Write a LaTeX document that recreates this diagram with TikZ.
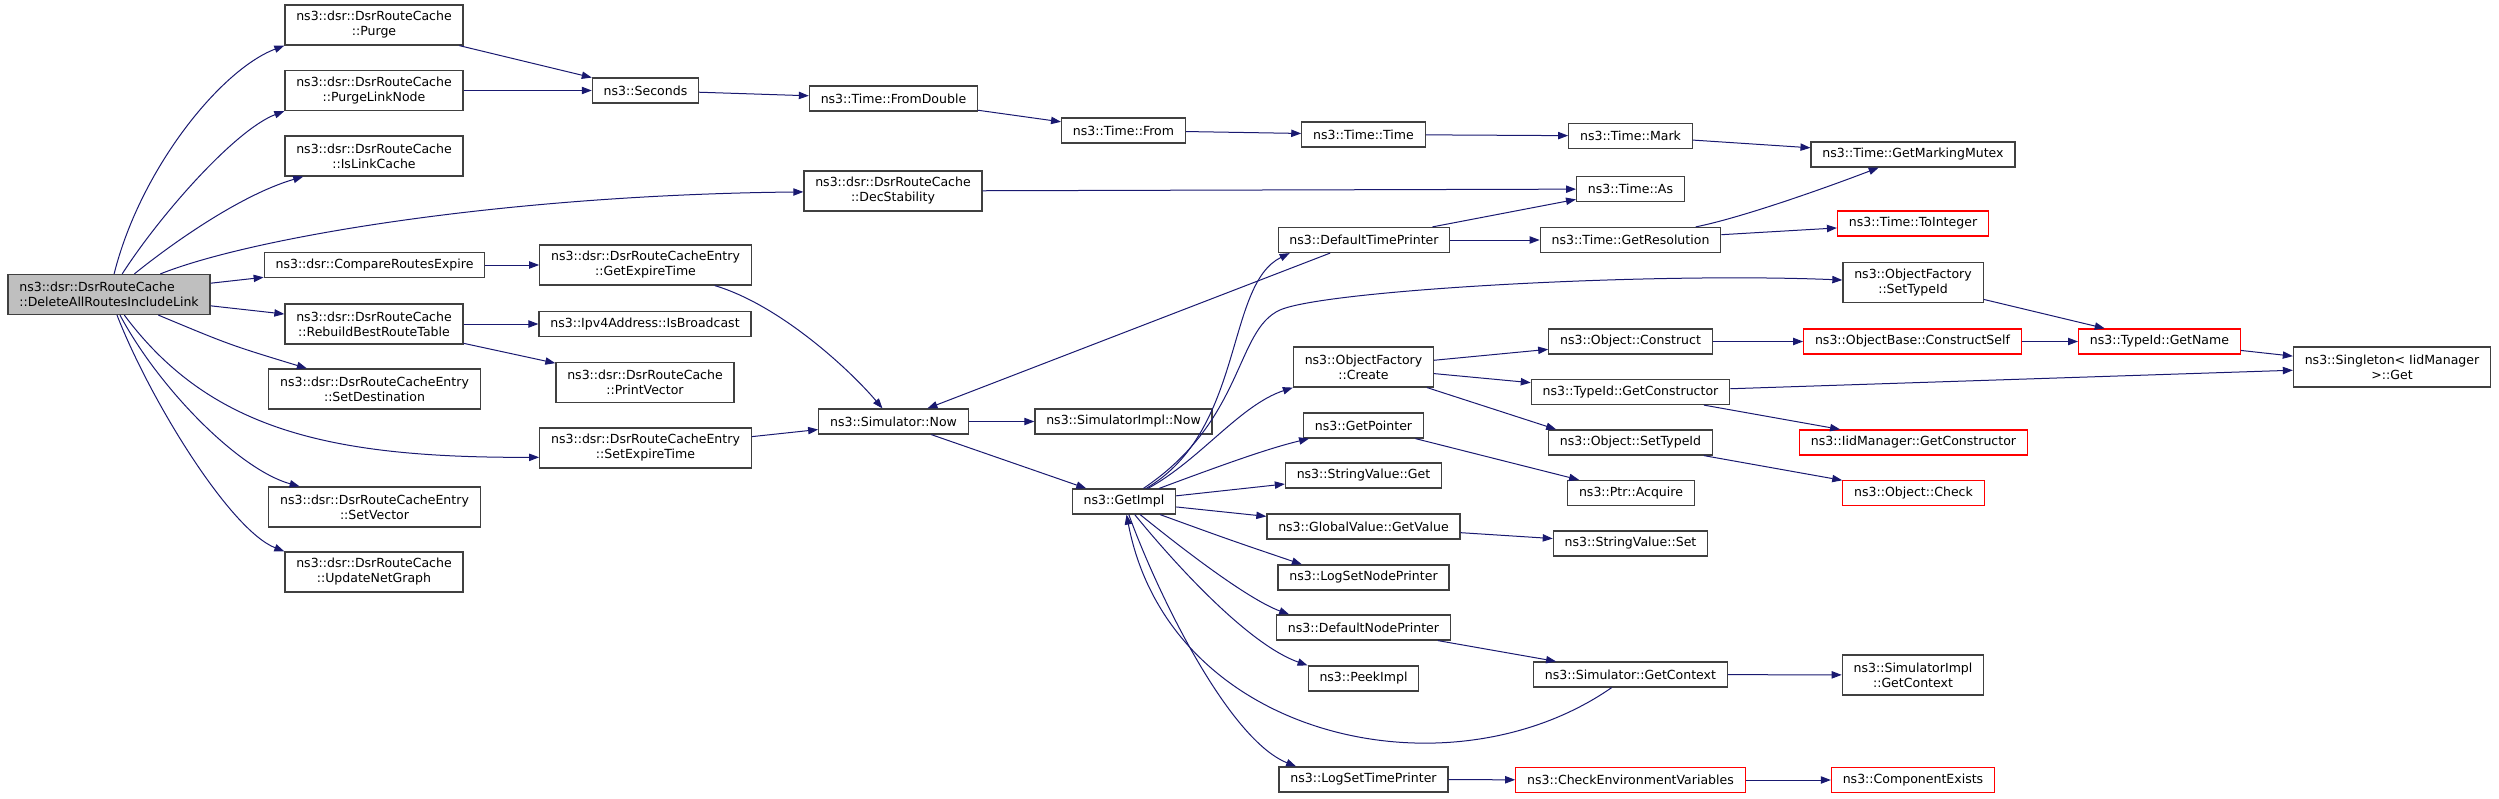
\documentclass[tikz,border=0pt]{standalone}
\usepackage{fontspec}
\setmainfont{DejaVu Sans}
\usetikzlibrary{arrows.meta}
\definecolor{callblue}{HTML}{191970}
\definecolor{boxgray}{HTML}{404040}

\begin{document}
\begin{tikzpicture}[x=0.75pt, y=-0.75pt,
    fnblock/.style = {rectangle, draw=boxgray, fill=white, line width=0.9pt, align=center, inner xsep=8.5pt, inner ysep=0pt, minimum height=18.75pt, font=\fontsize{9.4}{11.25}\selectfont},
    fnblock2/.style = {fnblock, minimum height=30pt},
    redblock/.style = {fnblock, draw=red},
    rootblock/.style = {fnblock2, fill=black!25, align=left},
    call/.style = {draw=callblue, line width=0.75pt, -{Triangle[length=7.5pt, width=5.5pt]}},
    ]
        \useasboundingbox (0,0) rectangle (2499,799);

        % Nodes
        \node[rootblock] (root) at (109,294.5) {ns3::dsr::DsrRouteCache\\::DeleteAllRoutesIncludeLink};
        %
        \node[fnblock2] (purge) at (374,25) {ns3::dsr::DsrRouteCache\\::Purge};
        \node[fnblock2] (purgelink) at (374,90.5) {ns3::dsr::DsrRouteCache\\::PurgeLinkNode};
        \node[fnblock2] (islink) at (374,156) {ns3::dsr::DsrRouteCache\\::IsLinkCache};
        \node[fnblock] (compare) at (374.5,265) {ns3::dsr::CompareRoutesExpire};
        \node[fnblock2] (rebuild) at (374,324) {ns3::dsr::DsrRouteCache\\::RebuildBestRouteTable};
        \node[fnblock2] (setdest) at (374.5,389) {ns3::dsr::DsrRouteCacheEntry\\::SetDestination};
        \node[fnblock2] (setvec) at (374.5,507) {ns3::dsr::DsrRouteCacheEntry\\::SetVector};
        \node[fnblock2] (netgraph) at (374,572) {ns3::dsr::DsrRouteCache\\::UpdateNetGraph};
        %
        \node[fnblock] (seconds) at (645.5,90.5) {ns3::Seconds};
        \node[fnblock2] (getexpire) at (645.5,265) {ns3::dsr::DsrRouteCacheEntry\\::GetExpireTime};
        \node[fnblock] (isbcast) at (645,324) {ns3::Ipv4Address::IsBroadcast};
        \node[fnblock2] (printvec) at (645,382.5) {ns3::dsr::DsrRouteCache\\::PrintVector};
        \node[fnblock2] (setexp) at (645.5,448) {ns3::dsr::DsrRouteCacheEntry\\::SetExpireTime};
        %
        \node[fnblock] (fromdbl) at (893.5,98.5) {ns3::Time::FromDouble};
        \node[fnblock2] (decstab) at (893,191) {ns3::dsr::DsrRouteCache\\::DecStability};
        \node[fnblock] (simnow) at (893.5,421.5) {ns3::Simulator::Now};
        %
        \node[fnblock] (timefrom) at (1123.5,130.5) {ns3::Time::From};
        \node[fnblock] (simimplnow) at (1123.5,421.5) {ns3::SimulatorImpl::Now};
        \node[fnblock] (getimpl) at (1124,501.5) {ns3::GetImpl};
        %
        \node[fnblock] (timetime) at (1363.5,134.5) {ns3::Time::Time};
        \node[fnblock] (deftime) at (1364,240) {ns3::DefaultTimePrinter};
        \node[fnblock2] (ofcreate) at (1363.5,367) {ns3::ObjectFactory\\::Create};
        \node[fnblock] (getptr) at (1363.5,425.5) {ns3::GetPointer};
        \node[fnblock] (strget) at (1363.5,475.5) {ns3::StringValue::Get};
        \node[fnblock] (gvget) at (1363.5,526.5) {ns3::GlobalValue::GetValue};
        \node[fnblock] (lognode) at (1363.5,577.5) {ns3::LogSetNodePrinter};
        \node[fnblock] (defnode) at (1363.5,627.5) {ns3::DefaultNodePrinter};
        \node[fnblock] (peek) at (1363.5,678.5) {ns3::PeekImpl};
        \node[fnblock] (logtime) at (1363.5,779.5) {ns3::LogSetTimePrinter};
        %
        \node[fnblock] (mark) at (1630.5,136) {ns3::Time::Mark};
        \node[fnblock] (timeas) at (1630.5,189) {ns3::Time::As};
        \node[fnblock] (getres) at (1630.5,240) {ns3::Time::GetResolution};
        \node[fnblock] (construct) at (1630.5,341.5) {ns3::Object::Construct};
        \node[fnblock] (getctor) at (1630.5,392) {ns3::TypeId::GetConstructor};
        \node[fnblock] (objsettype) at (1630.5,442.5) {ns3::Object::SetTypeId};
        \node[fnblock] (acquire) at (1631,493) {ns3::Ptr::Acquire};
        \node[fnblock] (strset) at (1630.5,543.5) {ns3::StringValue::Set};
        \node[fnblock] (simctx) at (1630.5,674.5) {ns3::Simulator::GetContext};
        \node[redblock] (checkenv) at (1630.5,780) {ns3::CheckEnvironmentVariables};
        %
        \node[fnblock] (mutex) at (1913,154.5) {ns3::Time::GetMarkingMutex};
        \node[redblock] (toint) at (1913,223.5) {ns3::Time::ToInteger};
        \node[fnblock2] (ofsettype) at (1913,282.5) {ns3::ObjectFactory\\::SetTypeId};
        \node[redblock] (ctorself) at (1912.5,341.5) {ns3::ObjectBase::ConstructSelf};
        \node[redblock] (iidctor) at (1913.5,442.5) {ns3::IidManager::GetConstructor};
        \node[redblock] (check) at (1913.5,493) {ns3::Object::Check};
        \node[fnblock2] (simimplctx) at (1913,675) {ns3::SimulatorImpl\\::GetContext};
        \node[redblock] (compexists) at (1913,780) {ns3::ComponentExists};
        %
        \node[redblock] (getname) at (2159.5,341.5) {ns3::TypeId::GetName};
        \node[fnblock2] (singleton) at (2392,367) {ns3::Singleton< IidManager\\>::Get};

        % Draw
        \draw[call] (root) .. controls (140,170) and (220,70) .. (purge.south west);
        \draw[call] (root) .. controls (160,215) and (235,130) .. (purgelink.south west);
        \draw[call] (root) .. controls (170,245) and (240,195) .. (islink);
        \draw[call] (root) .. controls (250,238) and (500,195) .. (decstab);
        \draw[call] (root) -- (compare);
        \draw[call] (root) -- (rebuild);
        \draw[call] (root) .. controls (230,345) .. (setdest);
        \draw[call] (root) .. controls (210,430) and (330,458) .. (setexp.185);
        \draw[call] (root) .. controls (160,390) and (240,470) .. (setvec);
        \draw[call] (root) .. controls (150,400) and (230,530) .. (netgraph.north west);
        %
        \draw[call] (purge) -- (seconds);
        \draw[call] (purgelink) -- (seconds);
        \draw[call] (seconds) -- (fromdbl);
        \draw[call] (fromdbl) -- (timefrom);
        \draw[call] (timefrom) -- (timetime);
        \draw[call] (timetime) -- (mark);
        \draw[call] (mark) -- (mutex);
        \draw[call] (decstab) -- (timeas);
        %
        \draw[call] (compare) -- (getexpire);
        \draw[call] (getexpire) .. controls (780,305) and (850,370) .. (simnow);
        \draw[call] (rebuild) -- (isbcast);
        \draw[call] (rebuild) -- (printvec);
        \draw[call] (setexp) -- (simnow);
        %
        \draw[call] (simnow) -- (simimplnow);
        \draw[call] (simnow) -- (getimpl);
        \draw[call] (deftime) -- (simnow);
        \draw[call] (deftime) -- (timeas);
        \draw[call] (deftime) -- (getres);
        \draw[call] (getres) .. controls (1740,218) and (1820,190) .. (mutex);
        \draw[call] (getres) -- (toint);
        %
        \draw[call] (getimpl) .. controls (1245,430) and (1225,285) .. (deftime.190);
        \draw[call] (getimpl) .. controls (1245,420) and (1235,330) .. (1280,310) .. controls (1325,290) and (1650,272) .. (ofsettype.178);
        \draw[call] (getimpl) .. controls (1200,460) and (1240,405) .. (ofcreate.south west);
        \draw[call] (getimpl) .. controls (1230,462) and (1270,448) .. (getptr);
        \draw[call] (getimpl) -- (strget);
        \draw[call] (getimpl) -- (gvget);
        \draw[call] (getimpl) .. controls (1230,540) .. (lognode.168);
        \draw[call] (getimpl) .. controls (1190,555) and (1250,600) .. (defnode.170);
        \draw[call] (getimpl) .. controls (1180,570) and (1250,645) .. (peek.north west);
        \draw[call] (getimpl) .. controls (1160,600) and (1230,740) .. (logtime.169);
        \draw[call] (simctx) .. controls (1450,800) and (1170,740) .. (getimpl);
        %
        \draw[call] (ofcreate) -- (construct);
        \draw[call] (ofcreate) -- (getctor);
        \draw[call] (ofcreate) -- (objsettype.170);
        \draw[call] (ofsettype) -- (getname);
        \draw[call] (construct) -- (ctorself);
        \draw[call] (ctorself) -- (getname);
        \draw[call] (getname) -- (singleton);
        \draw[call] (getctor) -- (singleton);
        \draw[call] (getctor) -- (iidctor);
        \draw[call] (objsettype) -- (check);
        \draw[call] (getptr) -- (acquire);
        \draw[call] (gvget) -- (strset);
        \draw[call] (defnode) -- (simctx);
        \draw[call] (simctx) -- (simimplctx);
        \draw[call] (logtime) -- (checkenv);
        \draw[call] (checkenv) -- (compexists);
    \end{tikzpicture}
\end{document}
